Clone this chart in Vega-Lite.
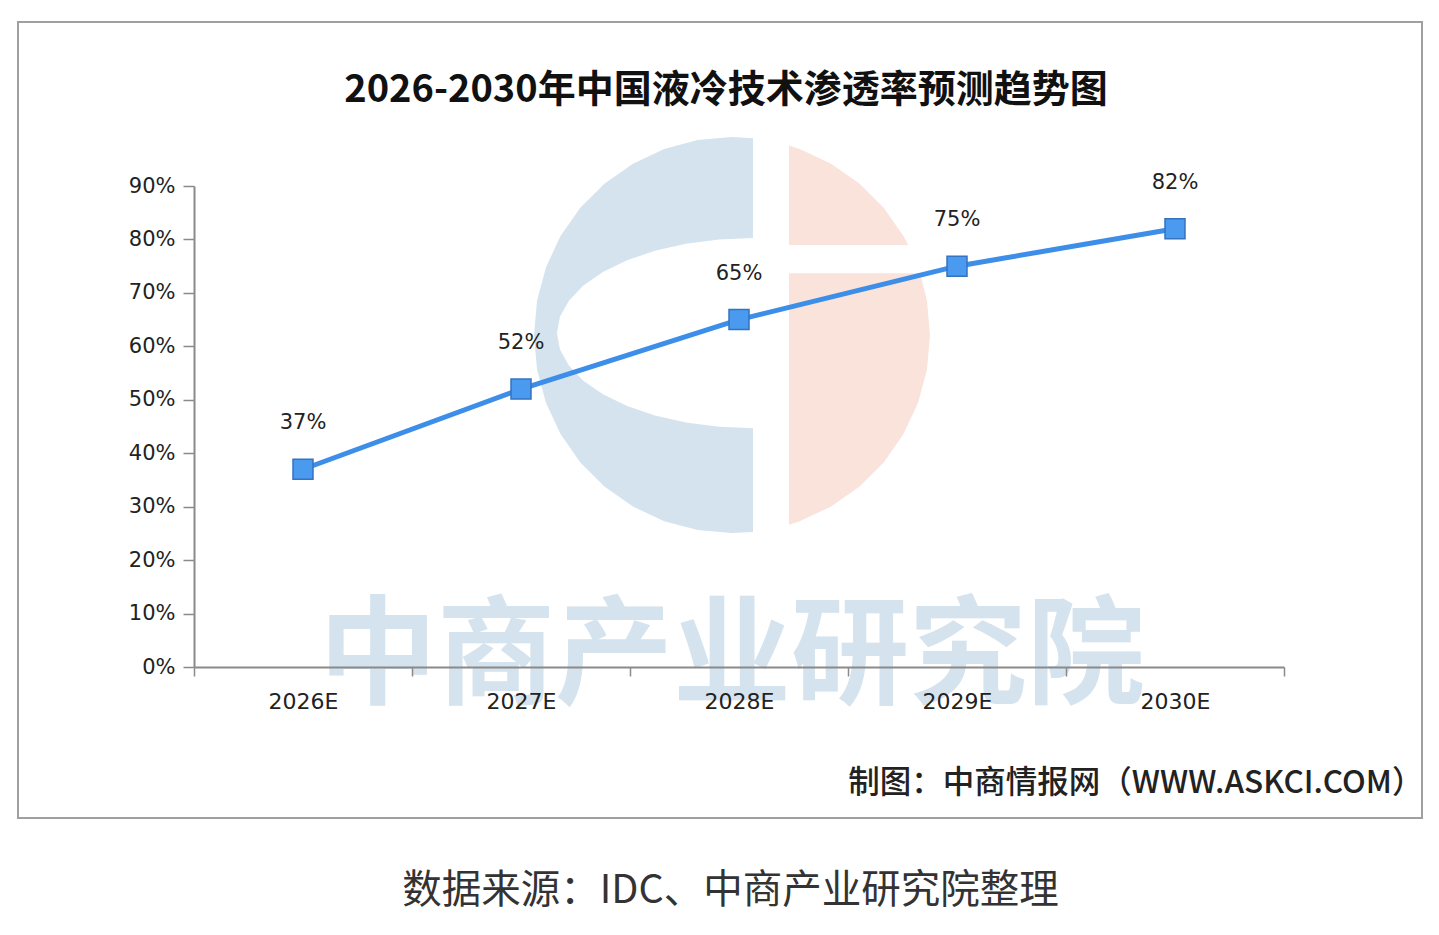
{
  "$schema": "https://vega.github.io/schema/vega-lite/v6.json",
  "autosize": {"type": "none"},
  "padding": {"left": 18, "top": 22, "right": 17, "bottom": 117},
  "width": 1404,
  "height": 796,
  "background": "#ffffff",
  "title": {
    "text": "2026-2030年中国液冷技术渗透率预测趋势图",
    "font": "Noto Sans CJK SC",
    "fontSize": 38,
    "fontWeight": "bold",
    "color": "#111111",
    "anchor": "middle",
    "frame": "group",
    "baseline": "middle",
    "offset": -107,
    "dx": 6
  },
  "data": {
    "values": [
      {"year": "2026E", "rate": 0.37},
      {"year": "2027E", "rate": 0.52},
      {"year": "2028E", "rate": 0.65},
      {"year": "2029E", "rate": 0.75},
      {"year": "2030E", "rate": 0.82}
    ]
  },
  "encoding": {
    "x": {
      "field": "year",
      "type": "nominal",
      "scale": {
        "domain": ["2026E", "2027E", "2028E", "2029E", "2030E"],
        "range": [176, 1266],
        "paddingInner": 0,
        "paddingOuter": 0
      },
      "axis": {
        "orient": "bottom",
        "offset": -151,
        "tickBand": "extent",
        "labelAngle": 0,
        "labelFont": "DejaVu Sans",
        "labelFontSize": 22,
        "labelColor": "#222222",
        "labelPadding": 15,
        "tickSize": 9,
        "tickColor": "#8a8a8a",
        "tickWidth": 1.5,
        "domainColor": "#8a8a8a",
        "domainWidth": 2,
        "zindex": 1,
        "title": "制图：中商情报网（WWW.ASKCI.COM）",
        "titleFont": "Noto Sans CJK SC",
        "titleFontSize": 31.5,
        "titleFontWeight": 500,
        "titleColor": "#222222",
        "titleAlign": "right",
        "titleAnchor": null,
        "titleBaseline": "middle",
        "titleX": 1405,
        "titleY": 116
      }
    },
    "y": {
      "field": "rate",
      "type": "quantitative",
      "scale": {"domain": [0, 0.9], "range": [645, 164], "nice": false, "zero": true},
      "axis": {
        "orient": "left",
        "offset": -176,
        "values": [0, 0.1, 0.2, 0.3, 0.4, 0.5, 0.6, 0.7, 0.8, 0.9],
        "format": ".0%",
        "grid": false,
        "labelFont": "DejaVu Sans",
        "labelFontSize": 21,
        "labelColor": "#222222",
        "labelPadding": 8,
        "tickSize": 11,
        "tickColor": "#8a8a8a",
        "tickWidth": 1.5,
        "domainColor": "#8a8a8a",
        "domainWidth": 2,
        "zindex": 1,
        "title": "数据来源：IDC、中商产业研究院整理",
        "titleAngle": 0,
        "titleFont": "Noto Sans CJK SC",
        "titleFontSize": 39.5,
        "titleFontWeight": "normal",
        "titleColor": "#333333",
        "titleAlign": "center",
        "titleAnchor": null,
        "titleBaseline": "middle",
        "titleX": 536,
        "titleY": 868
      }
    }
  },
  "layer": [
    {
      "transform": [{"filter": "datum.year === '2028E'"}],
      "mark": {
        "type": "point",
        "filled": true,
        "opacity": 1,
        "color": "#d4e3ed",
        "xOffset": -7,
        "size": 156816,
        "shape": "M0.106,-0.994 L0,-1 L-0.1736,-0.9848 L-0.342,-0.9397 L-0.5,-0.866 L-0.6428,-0.766 L-0.766,-0.6428 L-0.866,-0.5 L-0.9397,-0.342 L-0.9848,-0.1736 L-1,0 L-0.9848,0.1736 L-0.9397,0.342 L-0.866,0.5 L-0.766,0.6428 L-0.6428,0.766 L-0.5,0.866 L-0.342,0.9397 L-0.1736,0.9848 L0,1 L0.106,0.994 L0.106,0.47 L-0.066,0.463 L-0.233,0.441 L-0.389,0.406 L-0.53,0.358 L-0.652,0.299 L-0.751,0.23 L-0.824,0.154 L-0.869,0.073 L-0.884,-0.01 L-0.869,-0.093 L-0.824,-0.174 L-0.751,-0.25 L-0.652,-0.319 L-0.53,-0.378 L-0.389,-0.426 L-0.233,-0.461 L-0.066,-0.483 L0.106,-0.49 Z"
      },
      "encoding": {
        "y": {"datum": 0.621, "type": "quantitative"}
      }
    },
    {
      "transform": [{"filter": "datum.year === '2028E'"}],
      "mark": {
        "type": "point",
        "filled": true,
        "opacity": 1,
        "color": "#f9e3da",
        "xOffset": -7,
        "size": 156816,
        "shape": "M0.288,-0.958 L0.342,-0.9397 L0.5,-0.866 L0.6428,-0.766 L0.766,-0.6428 L0.866,-0.5 L0.89,-0.455 L0.288,-0.455 Z M0.288,-0.313 L0.95,-0.313 L0.9848,-0.1736 L1,0 L0.9848,0.1736 L0.9397,0.342 L0.866,0.5 L0.766,0.6428 L0.6428,0.766 L0.5,0.866 L0.342,0.9397 L0.288,0.958 Z"
      },
      "encoding": {
        "y": {"datum": 0.621, "type": "quantitative"}
      }
    },
    {
      "transform": [{"filter": "datum.year === '2028E'"}],
      "mark": {
        "type": "text",
        "font": "Noto Sans CJK SC",
        "fontSize": 118,
        "fontWeight": "bold",
        "color": "#d4e3ed",
        "align": "center",
        "baseline": "middle",
        "dx": -7,
        "text": "中商产业研究院"
      },
      "encoding": {
        "y": {"datum": 0.014, "type": "quantitative"}
      }
    },
    {
      "mark": {"type": "line", "color": "#3c8ee8", "strokeWidth": 5}
    },
    {
      "mark": {
        "type": "point",
        "shape": "square",
        "filled": true,
        "opacity": 1,
        "size": 400,
        "fill": "#4a9af0",
        "stroke": "#3573c0",
        "strokeWidth": 1.5
      }
    },
    {
      "mark": {
        "type": "text",
        "font": "DejaVu Sans",
        "fontSize": 21,
        "color": "#222222",
        "baseline": "middle",
        "dy": -46
      },
      "encoding": {
        "text": {"field": "rate", "type": "quantitative", "format": ".0%"}
      }
    }
  ],
  "config": {
    "view": {"stroke": "#a0a0a0", "strokeWidth": 2}
  }
}
